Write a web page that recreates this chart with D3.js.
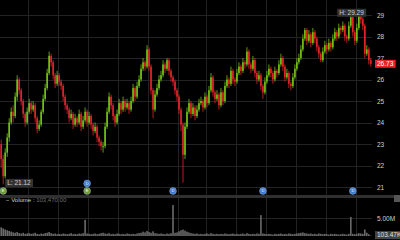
<!DOCTYPE html>
<html>
<head>
<meta charset="utf-8">
<script src="https://cdn.jsdelivr.net/npm/d3@7/dist/d3.min.js"></script>
<style>
  html, body { margin: 0; padding: 0; background: #000; overflow: hidden; }
  svg { display: block; }
  text { font-family: "Liberation Sans", "DejaVu Sans", sans-serif; }
</style>
</head>
<body>
<div id="chart"></div>
<script>

// daily closes, highs, lows (open = previous close)
let firstOpen = 23.0;
let closes = [
  22.3, 21.5, 22.6, 23.3, 24.0, 24.5, 24.3, 25.2, 26.0, 25.5,
  25.0, 24.4, 24.0, 24.5, 24.9, 24.6, 24.8, 24.2, 23.7, 23.9,
  24.5, 25.1, 25.6, 26.3, 27.1, 26.8, 26.2, 25.8, 26.2, 25.9,
  25.7, 25.2, 24.8, 24.6, 24.2, 24.4, 23.9, 24.2, 24.0, 24.4,
  23.8, 24.1, 24.5, 24.0, 24.3, 23.9, 23.6, 23.8, 23.3, 23.1,
  22.9, 22.9, 23.8, 24.5, 25.2, 24.8, 24.3, 24.0, 24.4, 24.9,
  24.6, 25.0, 24.7, 24.9, 24.6, 25.0, 25.6, 25.2, 25.7, 26.0,
  26.5, 26.8, 26.6, 27.4, 26.6, 25.5, 24.6, 25.3, 25.6, 26.0,
  26.2, 26.7, 26.5, 26.9, 26.4, 26.1, 25.9, 25.5, 25.2, 24.6,
  23.9, 22.5, 23.8, 24.5, 24.9, 24.4, 24.7, 24.3, 24.6, 24.9,
  25.0, 24.7, 25.2, 24.9, 25.5, 26.1, 25.4, 25.1, 25.3, 24.8,
  25.4, 25.0, 25.7, 26.0, 25.8, 26.4, 26.0, 25.9, 26.3, 26.6,
  26.4, 26.8, 26.7, 27.3, 26.7, 26.5, 26.9, 26.3, 26.0, 26.2,
  25.7, 25.4, 25.9, 26.2, 26.5, 26.3, 26.0, 26.4, 26.3, 26.7,
  27.0, 26.6, 26.1, 26.3, 25.8, 25.7, 26.1, 26.5, 26.8, 27.0,
  27.4, 27.9, 28.3, 27.8, 28.1, 27.7, 28.2, 27.9, 27.5, 27.2,
  26.9, 27.3, 27.6, 27.4, 27.7, 27.5, 27.9, 28.2, 28.0, 28.4,
  28.3, 28.5, 28.0, 27.9, 28.5, 28.9, 28.2, 27.8, 28.4, 29.1,
  28.8, 28.5, 27.2, 27.4, 26.9, 26.73
];
let highs = [
  23.2, 22.5, 22.8, 23.5, 24.2, 24.7, 24.8, 25.4, 26.2, 26.1,
  25.6, 25.1, 24.5, 24.7, 25.1, 25.0, 25.0, 24.9, 24.3, 24.1,
  24.6, 25.3, 25.8, 26.5, 27.3, 27.2, 26.9, 26.3, 26.4, 26.3,
  26.0, 25.8, 25.3, 24.9, 24.7, 24.6, 24.5, 24.4, 24.3, 24.6,
  24.5, 24.3, 24.7, 24.6, 24.5, 24.4, 24.0, 24.0, 23.9, 23.4,
  23.2, 23.1, 24.0, 24.7, 25.4, 25.3, 24.9, 24.4, 24.6, 25.1,
  25.0, 25.2, 25.1, 25.1, 25.0, 25.2, 25.8, 25.7, 25.9, 26.2,
  26.7, 27.0, 26.9, 27.6, 27.5, 26.7, 25.6, 25.5, 25.8, 26.2,
  26.4, 26.9, 26.8, 27.0, 27.0, 26.5, 26.2, 26.0, 25.6, 25.3,
  24.7, 24.0, 24.0, 24.7, 25.1, 25.0, 24.9, 24.8, 24.8, 25.1,
  25.2, 25.1, 25.4, 25.3, 25.7, 26.3, 26.2, 25.5, 25.5, 25.4,
  25.6, 25.5, 25.9, 26.2, 26.1, 26.6, 26.5, 26.1, 26.5, 26.8,
  26.7, 27.0, 26.9, 27.5, 27.4, 26.8, 27.1, 27.0, 26.4, 26.4,
  26.3, 25.8, 26.1, 26.4, 26.7, 26.6, 26.4, 26.6, 26.5, 26.9,
  27.2, 27.1, 26.7, 26.5, 26.4, 25.9, 26.3, 26.7, 27.0, 27.2,
  27.6, 28.1, 28.4, 28.4, 28.3, 28.2, 28.4, 28.3, 28.0, 27.6,
  27.3, 27.5, 27.8, 27.7, 27.9, 27.8, 28.1, 28.4, 28.3, 28.6,
  28.5, 28.7, 28.6, 28.1, 28.7, 29.0, 29.0, 28.3, 28.6, 29.29,
  29.2, 28.9, 28.6, 27.6, 27.5, 27.0
];
let lows = [
  21.9, 21.12, 21.4, 22.4, 23.1, 23.9, 24.0, 24.2, 25.0, 25.3,
  24.8, 24.2, 23.8, 23.9, 24.4, 24.4, 24.5, 24.0, 23.5, 23.6,
  23.8, 24.4, 25.0, 25.5, 26.2, 26.6, 26.0, 25.6, 25.7, 25.7,
  25.5, 25.0, 24.6, 24.4, 24.0, 24.1, 23.7, 23.8, 23.8, 23.9,
  23.6, 23.7, 24.0, 23.8, 23.9, 23.7, 23.4, 23.5, 23.1, 22.9,
  22.7, 22.6, 22.8, 23.7, 24.4, 24.6, 24.1, 23.8, 23.9, 24.3,
  24.4, 24.5, 24.5, 24.6, 24.4, 24.5, 24.9, 25.0, 25.1, 25.6,
  25.9, 26.4, 26.4, 26.5, 26.4, 25.3, 24.2, 24.5, 25.2, 25.5,
  25.9, 26.1, 26.3, 26.4, 26.2, 25.9, 25.7, 25.3, 25.0, 24.4,
  23.6, 21.2, 22.3, 23.7, 24.4, 24.2, 24.3, 24.1, 24.2, 24.5,
  24.8, 24.5, 24.6, 24.7, 24.8, 25.4, 25.2, 24.9, 25.0, 24.6,
  24.7, 24.8, 24.9, 25.6, 25.6, 25.7, 25.8, 25.7, 25.8, 26.2,
  26.2, 26.3, 26.5, 26.6, 26.5, 26.3, 26.4, 26.1, 25.8, 25.9,
  25.5, 25.1, 25.3, 25.8, 26.1, 26.1, 25.8, 25.9, 26.1, 26.2,
  26.6, 26.4, 25.9, 26.0, 25.6, 25.5, 25.6, 26.0, 26.4, 26.7,
  26.9, 27.3, 27.8, 27.6, 27.7, 27.5, 27.6, 27.7, 27.3, 27.0,
  26.8, 26.8, 27.2, 27.2, 27.3, 27.3, 27.4, 27.8, 27.8, 27.9,
  28.1, 28.2, 27.8, 27.7, 27.8, 28.4, 28.0, 27.6, 27.7, 28.3,
  28.6, 28.3, 27.0, 27.1, 26.7, 26.6
];
// volume in millions
let volumes = [
  2.4, 2.1, 1.8, 1.6, 1.4, 1.2, 1.0, 0.9, 1.1, 0.8,
  0.7, 0.9, 0.6, 0.7, 0.8, 0.6, 0.7, 0.9, 0.6, 0.5,
  0.7, 0.6, 0.8, 0.9, 1.1, 0.8, 0.6, 0.7, 0.5, 0.6,
  0.5, 0.7, 0.6, 0.5, 0.6, 0.8, 0.5, 0.6, 0.5, 0.7,
  0.6, 0.8, 4.5, 0.7, 0.6, 0.5, 0.6, 0.7, 0.5, 0.6,
  0.8, 0.9, 0.7, 0.6, 0.8, 0.5, 0.6, 0.5, 0.7, 0.6,
  0.5, 0.6, 0.5, 0.7, 0.6, 0.5, 0.6, 0.5, 0.7, 0.8,
  0.9, 1.2, 1.0, 1.4, 1.1, 0.9, 1.3, 0.8, 0.7, 0.6,
  0.7, 0.6, 0.5, 0.7, 0.6, 0.8, 8.6, 0.9, 1.0, 1.3,
  1.6, 1.8, 1.5, 1.2, 1.0, 0.8, 0.7, 0.6, 0.7, 0.5,
  0.6, 0.5, 0.6, 0.7, 0.5, 0.8, 0.6, 0.5, 0.6, 0.5,
  0.6, 0.5, 0.7, 0.6, 0.5, 0.6, 0.7, 0.5, 0.6, 0.5,
  0.6, 0.7, 0.5, 0.8, 0.6, 0.5, 0.6, 0.5, 0.7, 0.6,
  5.8, 0.7, 0.6, 0.5, 0.6, 0.5, 0.4, 0.6, 0.5, 0.6,
  0.7, 0.5, 0.6, 0.5, 0.7, 0.6, 0.5, 0.6, 0.7, 0.8,
  0.9, 1.0, 0.8, 0.7, 0.6, 0.7, 0.5, 0.6, 0.5, 0.7,
  0.6, 0.5, 0.6, 0.5, 0.4, 0.6, 0.5, 0.6, 0.5, 0.4,
  0.5, 0.6, 0.5, 0.4, 0.6, 5.3, 0.6, 0.5, 0.6, 0.8,
  0.7, 0.6, 1.8, 0.9, 0.5, 0.10347
];
let monthStarts = [14, 29, 44, 59, 74, 89, 103, 118, 133, 148, 163, 178];
let priceTicks = [21, 22, 23, 24, 25, 26, 27, 28, 29];
let volumeTicks = [5];
let dividendDays = [43, 86, 131, 176];
let earningsDays = [1, 43];

let svgWidth = 400, svgHeight = 240;
let plotRight = 372;
let red = "#e3242b", green = "#74c216";

let candles = closes.map(function(c, i) {
    return {i: i, o: i === 0 ? firstOpen : closes[i - 1], c: c, h: highs[i], l: lows[i], v: volumes[i]};
});

let x = d3.scaleBand().domain(d3.range(closes.length)).range([0, plotRight]).padding(0.2);
let y = d3.scaleLinear().domain([21, 29]).range([187, 15]);
let yv = d3.scaleLinear().domain([0, 5]).range([236, 218]);
let cx = function(i) { return x(i) + x.bandwidth() / 2; };

let svg = d3.select("#chart").append("svg")
    .attr("width", svgWidth)
    .attr("height", svgHeight);

svg.append("rect").attr("width", svgWidth).attr("height", svgHeight).attr("fill", "#000");

// grid
svg.append("g").selectAll("line").data(monthStarts).enter().append("line")
    .attr("x1", function(d) { return Math.round(x(d)) + 0.5; })
    .attr("x2", function(d) { return Math.round(x(d)) + 0.5; })
    .attr("y1", 0).attr("y2", 236)
    .attr("stroke", "#232323");

svg.append("g").selectAll("line").data(priceTicks).enter().append("line")
    .attr("x1", 0).attr("x2", plotRight)
    .attr("y1", function(d) { return Math.round(y(d)) + 0.5; })
    .attr("y2", function(d) { return Math.round(y(d)) + 0.5; })
    .attr("stroke", "#232323");

svg.append("g").selectAll("line").data(volumeTicks).enter().append("line")
    .attr("x1", 0).attr("x2", plotRight)
    .attr("y1", function(d) { return Math.round(yv(d)) + 0.5; })
    .attr("y2", function(d) { return Math.round(yv(d)) + 0.5; })
    .attr("stroke", "#232323");

// candles
let cg = svg.append("g").selectAll("g").data(candles).enter().append("g");
cg.append("line")
    .attr("x1", function(d) { return cx(d.i); })
    .attr("x2", function(d) { return cx(d.i); })
    .attr("y1", function(d) { return y(d.h); })
    .attr("y2", function(d) { return y(d.l); })
    .attr("stroke", function(d) { return d.c >= d.o ? green : red; })
    .attr("stroke-width", 0.8);
cg.append("rect")
    .attr("x", function(d) { return x(d.i); })
    .attr("width", x.bandwidth())
    .attr("y", function(d) { return y(Math.max(d.o, d.c)); })
    .attr("height", function(d) { return Math.max(1, Math.abs(y(d.o) - y(d.c))); })
    .attr("fill", function(d) { return d.c >= d.o ? green : red; });

// volume
svg.append("g").selectAll("rect").data(candles).enter().append("rect")
    .attr("x", function(d) { return x(d.i); })
    .attr("width", x.bandwidth())
    .attr("y", function(d) { return yv(d.v); })
    .attr("height", function(d) { return yv(0) - yv(d.v); })
    .attr("fill", "#6a6a6a");

// separator between panes
svg.append("rect").attr("x", 0).attr("y", 195).attr("width", svgWidth).attr("height", 3).attr("fill", "#303030");
svg.append("rect").attr("x", 394).attr("y", 195).attr("width", 6).attr("height", 7).attr("fill", "#555");

// axes
let yAxis = svg.append("g")
    .attr("transform", "translate(377,0)")
    .call(d3.axisRight(y).tickValues(priceTicks).tickSize(0).tickFormat(d3.format("d")));
yAxis.select(".domain").remove();
yAxis.selectAll("text").attr("fill", "#cfcfcf").attr("font-size", "6.5px").attr("x", 0);

let vAxis = svg.append("g")
    .attr("transform", "translate(377,0)")
    .call(d3.axisRight(yv).tickValues(volumeTicks).tickSize(0).tickFormat(function(d) { return d.toFixed(2) + "M"; }));
vAxis.select(".domain").remove();
vAxis.selectAll("text").attr("fill", "#cfcfcf").attr("font-size", "6.5px").attr("x", 0);

// boxed labels
function tag(px, py, label, bg, fg, anchor) {
    let g = svg.append("g");
    let t = g.append("text").text(label)
        .attr("font-size", "6.5px").attr("fill", fg)
        .attr("dy", "0.35em").attr("x", px).attr("y", py)
        .attr("text-anchor", anchor);
    let b = t.node().getBBox();
    g.insert("rect", "text")
        .attr("x", b.x - 2).attr("y", py - 4)
        .attr("width", b.width + 4).attr("height", 8)
        .attr("fill", bg);
}

let hiIdx = d3.maxIndex(highs), loIdx = d3.minIndex(lows);
tag(cx(hiIdx) + 5, y(highs[hiIdx]) + 4, "H: " + highs[hiIdx].toFixed(2), "#333", "#cfcfcf", "end");
tag(cx(loIdx) + 4, y(lows[loIdx]) - 1.5, "L: " + lows[loIdx].toFixed(2), "#333", "#cfcfcf", "start");
let last = closes[closes.length - 1];
tag(377, y(last), last.toFixed(2), red, "#fff", "start");
let lastVol = volumes[volumes.length - 1];
tag(377, yv(lastVol) - 0.5, (lastVol * 1000).toFixed(2) + "K", "#444", "#e0e0e0", "start");

// event markers
function marker(i, yy, color, letter) {
    svg.append("circle").attr("cx", cx(i)).attr("cy", yy).attr("r", 3.4)
        .attr("fill", color).attr("stroke", "#aac8f0").attr("stroke-width", 0.4);
    svg.append("text").text(letter).attr("x", cx(i)).attr("y", yy)
        .attr("dy", "0.35em").attr("text-anchor", "middle")
        .attr("font-size", "4px").attr("fill", "#fff");
}
earningsDays.forEach(function(i) { marker(i, 191, "#6f9a34", "E"); });
dividendDays.forEach(function(i) {
    marker(i, earningsDays.indexOf(i) >= 0 ? 183.5 : 191, "#3d7bd0", "D");
});

// volume legend
let leg = svg.append("text").attr("x", 6).attr("y", 200).attr("dy", "0.35em").attr("font-size", "6px");
leg.append("tspan").text("− Volume : ").attr("fill", "#d0d0d0");
leg.append("tspan").text(d3.format(",.2f")(lastVol * 1e6)).attr("fill", "#707070");

</script>
</body>
</html>
